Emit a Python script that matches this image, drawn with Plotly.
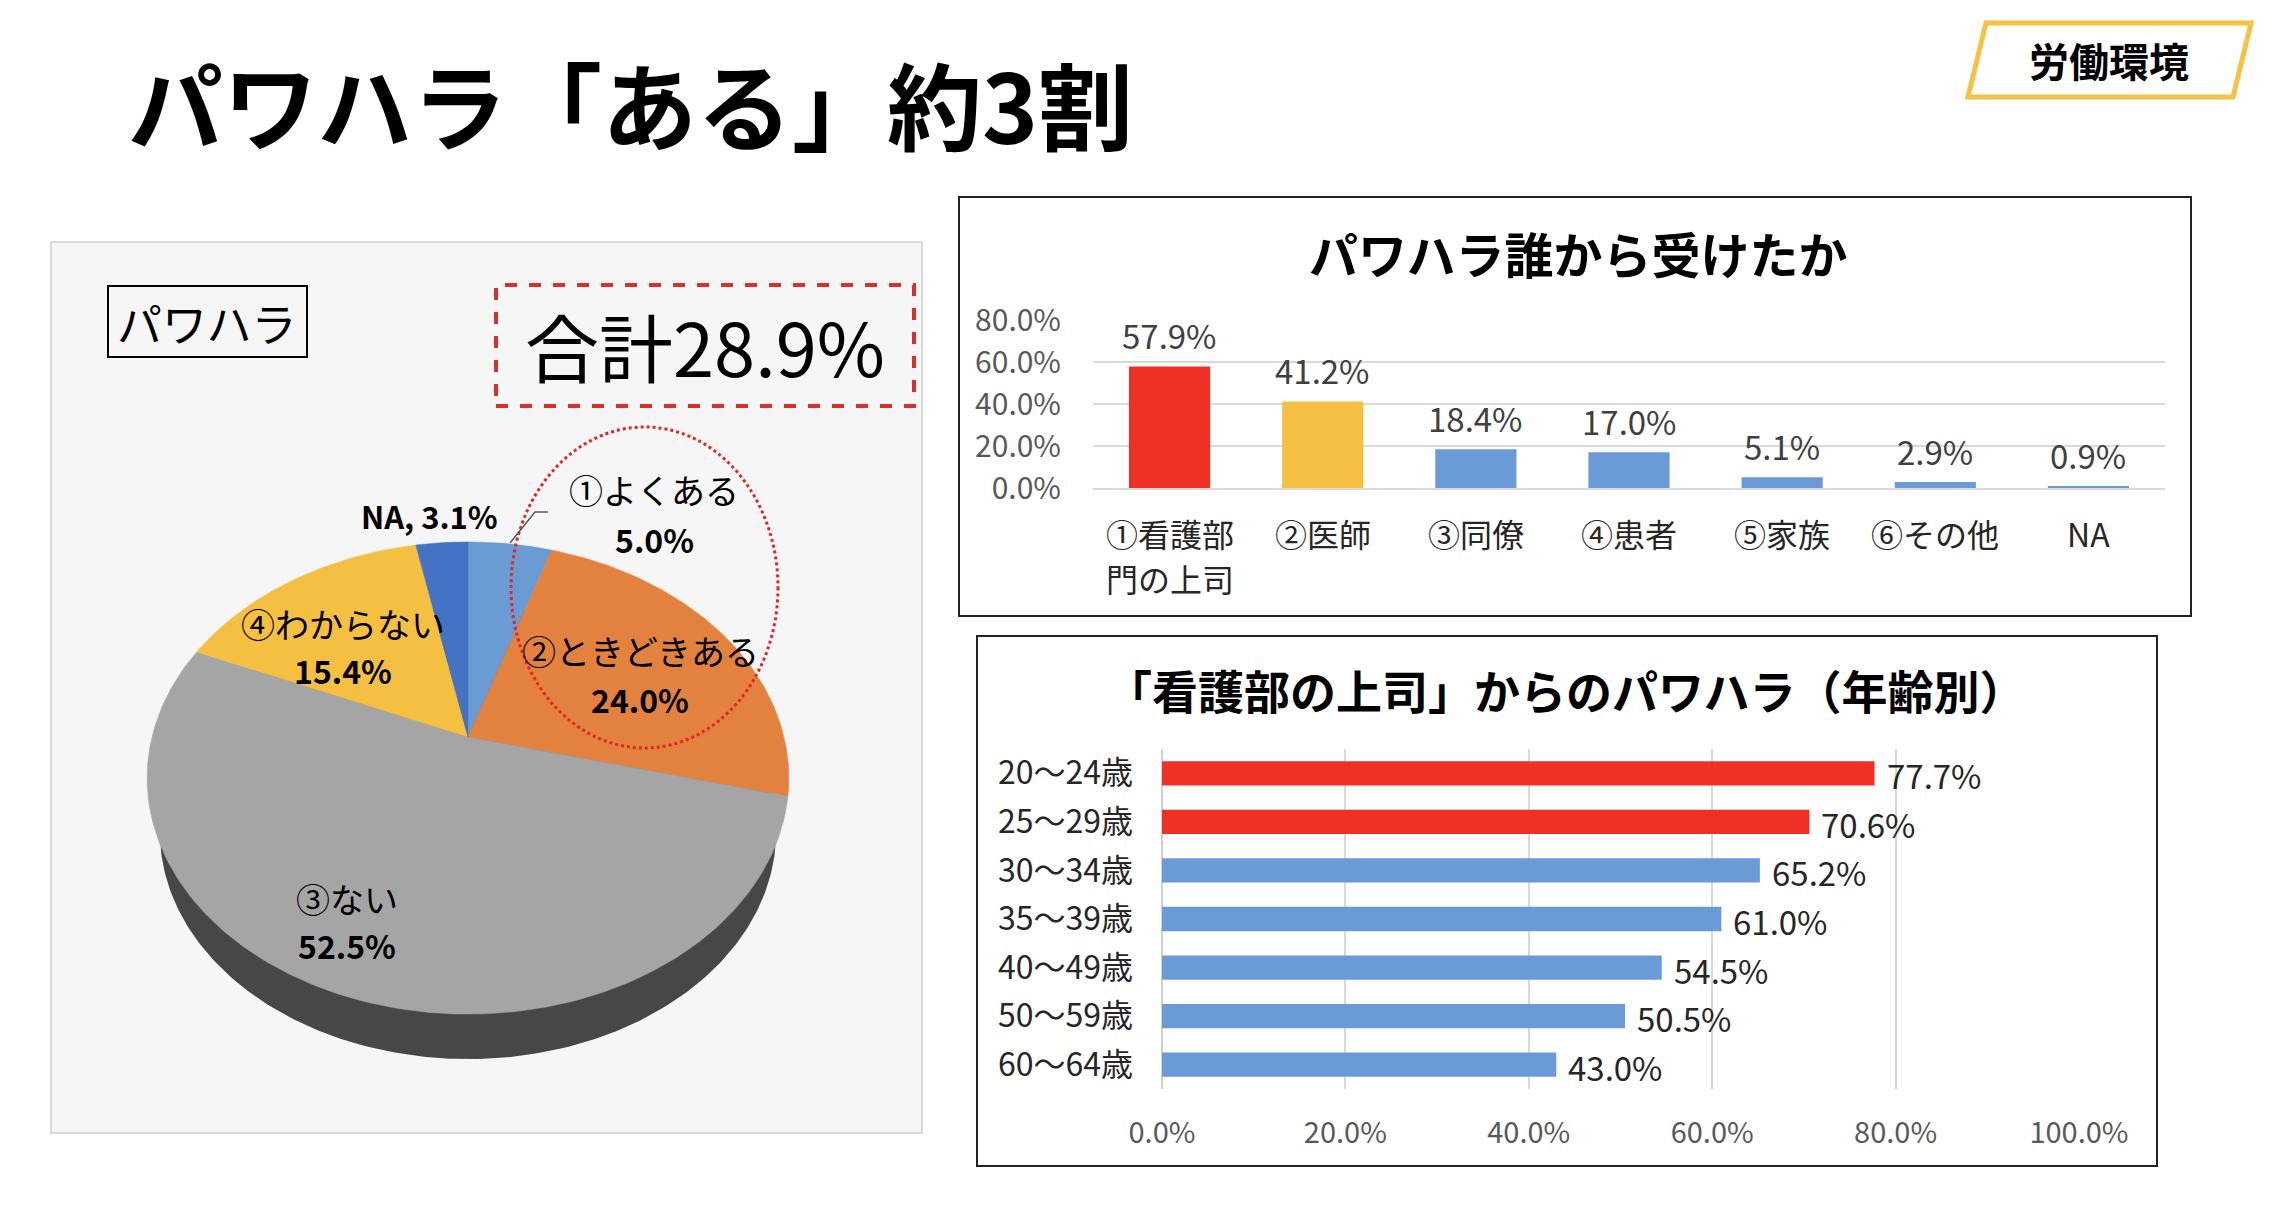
import numpy as np
import plotly.graph_objects as go

W, H = 2274, 1214
FONT = "Noto Sans CJK JP"

# ---------------- data ----------------
pie_labels = ["①よくある", "②ときどきある", "③ない", "④わからない", "NA"]
pie_values = [5.0, 24.0, 52.5, 15.4, 3.1]
pie_total_label = "合計28.9%"

who_cats = ["①看護部<br>門の上司", "②医師", "③同僚", "④患者", "⑤家族", "⑥その他", "NA"]
who_vals = [57.9, 41.2, 18.4, 17.0, 5.1, 2.9, 0.9]
who_ticks = [0, 20, 40, 60, 80]

age_cats = ["20～24歳", "25～29歳", "30～34歳", "35～39歳", "40～49歳", "50～59歳", "60～64歳"]
age_vals = [77.7, 70.6, 65.2, 61.0, 54.5, 50.5, 43.0]
age_ticks = [0, 20, 40, 60, 80, 100]

# ---------------- styles ----------------
pie_colors = ["#6A9BD2", "#E3823F", "#A5A5A5", "#F5BF42", "#4472C4"]
who_colors = ["#EE3124", "#F5BF42", "#6A9BD6", "#6A9BD6", "#6A9BD6", "#6A9BD6", "#6A9BD6"]
age_colors = ["#EE3124", "#EE3124", "#6A9BD6", "#6A9BD6", "#6A9BD6", "#6A9BD6", "#6A9BD6"]


def PX(x):
    return x / W


def PY(y):
    return 1 - y / H


fig = go.Figure()

# ---------------- 3D-looking pie (projected disc) ----------------
CX, CY = 468, 737
A, B, P = 316, 229, 0.1737
S, D = 0.96, 56


def proj(theta):
    u = np.cos(theta)
    v = np.sin(theta)
    den = 1 + P * v
    return CX + A * u / den, CY - B * v / den


# side (bottom rim)
th = np.linspace(0, 2 * np.pi, 400)
tx, ty = proj(th)
bx = CX + S * (tx - CX)
by = CY + D + S * (ty - CY)
fig.add_trace(go.Scatter(x=bx, y=by, fill="toself", mode="lines",
                         line=dict(width=0), fillcolor="#474747",
                         hoverinfo="skip", xaxis="x", yaxis="y", showlegend=False))

cum = 0.0
for lab, val, col in zip(pie_labels, pie_values, pie_colors):
    t0 = np.pi / 2 - 2 * np.pi * cum / 100
    t1 = np.pi / 2 - 2 * np.pi * (cum + val) / 100
    n = max(8, int(val * 4))
    ts = np.linspace(t0, t1, n)
    ax_, ay_ = proj(ts)
    xs = np.concatenate([[CX], ax_, [CX]])
    ys = np.concatenate([[CY], ay_, [CY]])
    fig.add_trace(go.Scatter(x=xs, y=ys, fill="toself", mode="lines",
                             line=dict(width=0.5, color=col), fillcolor=col,
                             hoverinfo="skip", xaxis="x", yaxis="y", showlegend=False))
    cum += val

# ---------------- bar chart: who ----------------
fig.add_trace(go.Bar(x=who_cats, y=who_vals, marker=dict(color=who_colors, line=dict(width=0)),
                     width=0.53, xaxis="x2", yaxis="y2", showlegend=False, hoverinfo="skip"))

# ---------------- horizontal bar: age ----------------
fig.add_trace(go.Bar(x=age_vals, y=age_cats, orientation="h",
                     marker=dict(color=age_colors, line=dict(width=0)),
                     width=0.5, xaxis="x3", yaxis="y3", showlegend=False, hoverinfo="skip"))

annotations = []
shapes = []

# ---------------- slide title + tag ----------------
annotations.append(dict(x=PX(126), y=PY(102), xref="paper", yref="paper", xanchor="left", yanchor="middle",
                        text="<b>パワハラ「ある」約3割</b>", showarrow=False,
                        font=dict(family=FONT, size=95, color="#000000")))
tag_path = "M {},{} L {},{} L {},{} L {},{} Z".format(
    PX(1986), PY(23), PX(2251), PY(23), PX(2233), PY(97), PX(1968), PY(97))
shapes.append(dict(type="path", path=tag_path, xref="paper", yref="paper",
                   line=dict(color="#F5C242", width=5), fillcolor="rgba(0,0,0,0)"))
annotations.append(dict(x=PX(2109), y=PY(60), xref="paper", yref="paper", xanchor="center", yanchor="middle",
                        text="<b>労働環境</b>", showarrow=False,
                        font=dict(family=FONT, size=40, color="#000000")))

# ---------------- pie panel decorations ----------------
shapes.append(dict(type="rect", xref="paper", yref="paper", x0=PX(51), x1=PX(922), y0=PY(1133), y1=PY(242),
                   line=dict(color="#D9D9D9", width=2), fillcolor="#F6F6F6", layer="below"))
shapes.append(dict(type="rect", xref="paper", yref="paper", x0=PX(108), x1=PX(307), y0=PY(357), y1=PY(286),
                   line=dict(color="#000000", width=2), fillcolor="rgba(0,0,0,0)"))
annotations.append(dict(x=PX(207), y=PY(322), xref="paper", yref="paper", text="パワハラ", showarrow=False,
                        xanchor="center", yanchor="middle", font=dict(family=FONT, size=45, color="#000000")))
shapes.append(dict(type="rect", xref="paper", yref="paper", x0=PX(496), x1=PX(914), y0=PY(406), y1=PY(285),
                   line=dict(color="#D9302B", width=4, dash="dash"), fillcolor="rgba(0,0,0,0)"))
annotations.append(dict(x=PX(705), y=PY(344), xref="paper", yref="paper", text=pie_total_label, showarrow=False,
                        xanchor="center", yanchor="middle", font=dict(family=FONT, size=74, color="#000000")))
shapes.append(dict(type="circle", xref="paper", yref="paper", x0=PX(511), x1=PX(778), y0=PY(748), y1=PY(427),
                   line=dict(color="#E0262A", width=3, dash="dot"), fillcolor="rgba(0,0,0,0)"))
# leader line for ①
shapes.append(dict(type="path", xref="x", yref="y",
                   path="M 510,543 L 535,512 L 548,512", line=dict(color="#595959", width=1.5)))

pie_label_pos = {
    "①よくある": (654, 489, 539),
    "②ときどきある": (640, 650, 699),
    "③ない": (347, 898, 945),
    "④わからない": (343, 623, 670),
}
for lab, val in zip(pie_labels, pie_values):
    if lab in pie_label_pos:
        x, y1, y2 = pie_label_pos[lab]
        annotations.append(dict(x=x, y=y1, xref="x", yref="y", text=lab, showarrow=False,
                                xanchor="center", yanchor="middle",
                                font=dict(family=FONT, size=34, color="#000000")))
        annotations.append(dict(x=x, y=y2, xref="x", yref="y", text="<b>{:.1f}%</b>".format(val), showarrow=False,
                                xanchor="center", yanchor="middle",
                                font=dict(family=FONT, size=32, color="#000000")))
    else:
        annotations.append(dict(x=500, y=515, xref="x", yref="y", text="<b>{}, {:.1f}%</b>".format(lab, val),
                                showarrow=False, xanchor="right", yanchor="middle",
                                font=dict(family=FONT, size=31, color="#000000")))

# ---------------- chart boxes & titles ----------------
shapes.append(dict(type="rect", xref="paper", yref="paper", x0=PX(959), x1=PX(2191), y0=PY(616), y1=PY(197),
                   line=dict(color="#222222", width=2), fillcolor="rgba(0,0,0,0)"))
annotations.append(dict(x=PX(1578), y=PY(252), xref="paper", yref="paper", text="<b>パワハラ誰から受けたか</b>",
                        showarrow=False, xanchor="center", yanchor="middle",
                        font=dict(family=FONT, size=49, color="#000000")))
shapes.append(dict(type="rect", xref="paper", yref="paper", x0=PX(977), x1=PX(2157), y0=PY(1166), y1=PY(636),
                   line=dict(color="#222222", width=2), fillcolor="rgba(0,0,0,0)"))
annotations.append(dict(x=PX(1566), y=PY(689), xref="paper", yref="paper",
                        text="<b>「看護部の上司」からのパワハラ（年齢別）</b>",
                        showarrow=False, xanchor="center", yanchor="middle",
                        font=dict(family=FONT, size=46, color="#000000")))

# category labels of the "who" chart (one line per annotation)
for c in who_cats:
    for i, line in enumerate(c.split("<br>")):
        annotations.append(dict(x=c, y=0, xref="x2", yref="y2", text=line, showarrow=False,
                                xanchor="center", yanchor="middle", yshift=-45 - 45 * i,
                                font=dict(family=FONT, size=32, color="#262626")))

# bar value labels
for c, v in zip(who_cats, who_vals):
    annotations.append(dict(x=c, y=v, xref="x2", yref="y2", text="{:.1f}%".format(v), showarrow=False,
                            xanchor="center", yanchor="middle", yshift=31,
                            font=dict(family=FONT, size=33, color="#404040")))
for c, v in zip(age_cats, age_vals):
    annotations.append(dict(x=v, y=c, xref="x3", yref="y3", text="{:.1f}%".format(v), showarrow=False,
                            xanchor="left", yanchor="middle", xshift=10, yshift=-2,
                            font=dict(family=FONT, size=33, color="#262626")))

fig.update_layout(
    template="none",
    width=W, height=H, autosize=False,
    margin=dict(l=0, r=0, t=0, b=0, pad=0, autoexpand=False),
    paper_bgcolor="#FFFFFF", plot_bgcolor="rgba(0,0,0,0)",
    showlegend=False,
    font=dict(family=FONT),
    # pie axes in pixel units
    xaxis=dict(domain=[PX(51), PX(922)], range=[51, 922], visible=False, fixedrange=True, automargin=False),
    yaxis=dict(domain=[PY(1133), PY(242)], range=[1133, 242], visible=False, fixedrange=True, automargin=False),
    # who chart
    xaxis2=dict(domain=[PX(1093), PX(2165)], anchor="y2", range=[-0.5, 6.5], type="category",
                showgrid=False, showline=True, linecolor="#D9D9D9", linewidth=2, ticks="",
                zeroline=False, showticklabels=False,
                fixedrange=True, automargin=False),
    yaxis2=dict(domain=[PY(488), PY(320)], anchor="x2", range=[0, 80], tickmode="array",
                tickvals=who_ticks, ticktext=["{:.1f}%".format(t) for t in who_ticks],
                showgrid=True, gridcolor="#D9D9D9", gridwidth=1.5, ticks="",
                zeroline=False, showline=False,
                tickfont=dict(family=FONT, size=30, color="#595959"), ticklabelstandoff=31,
                fixedrange=True, automargin=False),
    # age chart
    xaxis3=dict(domain=[PX(1162), PX(2079)], anchor="y3", range=[0, 100], tickmode="array",
                tickvals=age_ticks, ticktext=["{:.1f}%".format(t) for t in age_ticks],
                showgrid=True, gridcolor="#D9D9D9", gridwidth=1.5, ticks="",
                zeroline=True, zerolinecolor="#D0D0D0", zerolinewidth=2, showline=False,
                tickfont=dict(family=FONT, size=29, color="#595959"), ticklabelstandoff=24,
                fixedrange=True, automargin=False),
    yaxis3=dict(domain=[PY(1089), PY(749)], anchor="x3", type="category", range=[6.5, -0.5],
                showgrid=False, showline=False, ticks="", zeroline=False,
                tickfont=dict(family=FONT, size=32, color="#262626"), ticklabelstandoff=28,
                fixedrange=True, automargin=False),
    shapes=shapes,
    annotations=annotations,
)

fig.write_html(
    "out.html",
    config={"displayModeBar": False},
    post_script="document.body.style.margin='0';document.body.style.padding='0';"
                "document.documentElement.style.overflow='hidden';document.body.style.overflow='hidden';",
)
